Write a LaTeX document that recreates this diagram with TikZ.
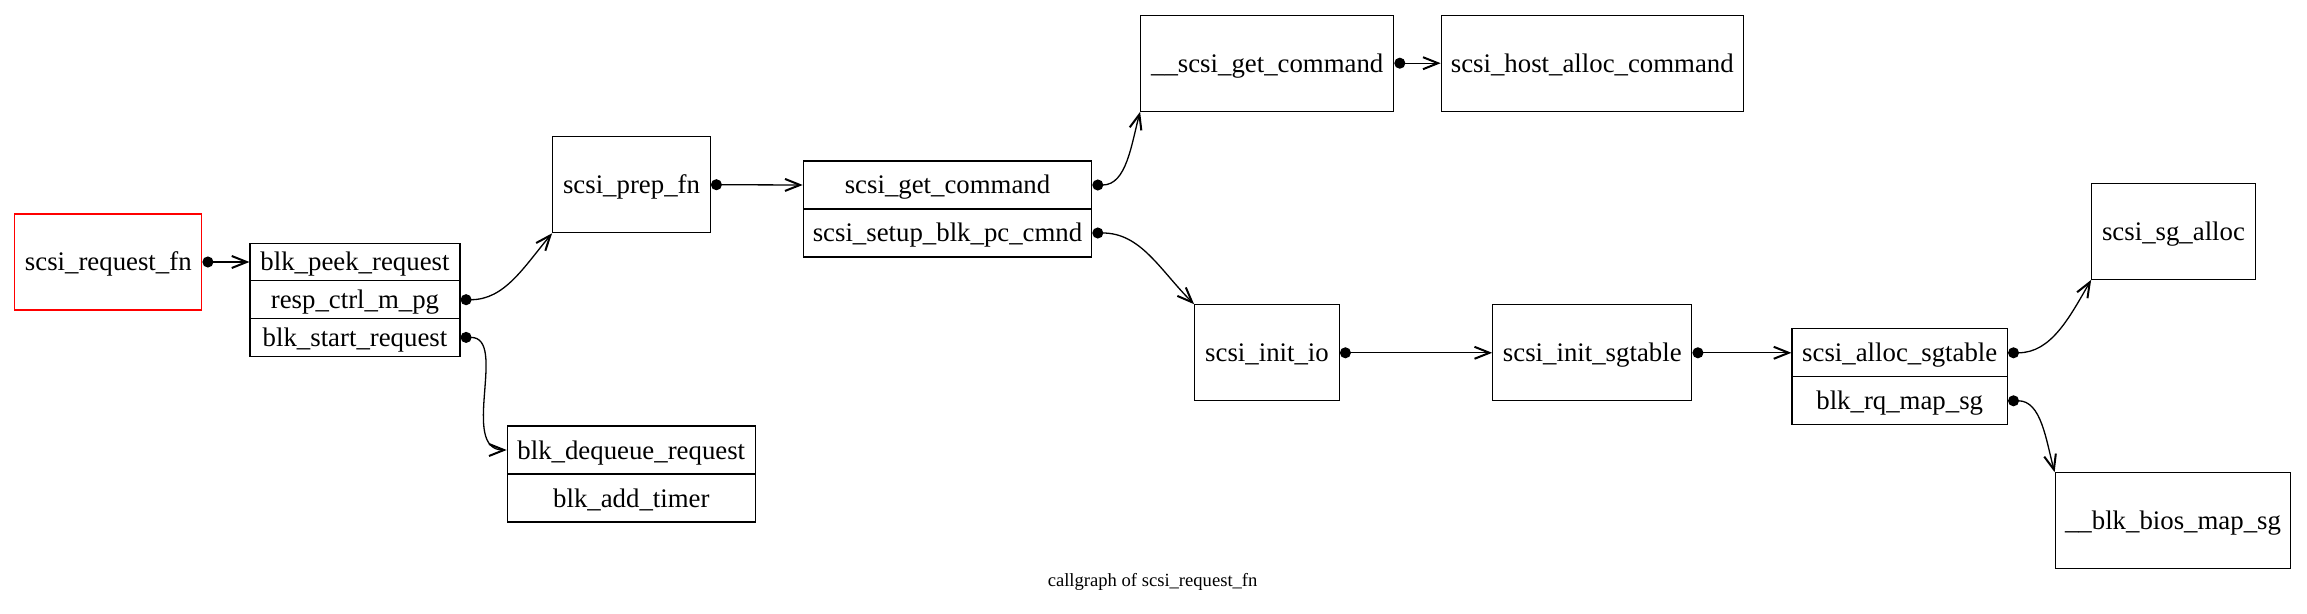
\documentclass[tikz,border=0pt]{standalone}
\usepackage{fontspec}
\setmainfont{Liberation Serif}
\usetikzlibrary{arrows.meta}

\tikzset{
  fn/.style={draw=black, line width=0.6pt, rectangle, inner sep=0pt,
    text height=12pt, text depth=3pt,
    font=\fontsize{13.4}{15}\selectfont},
  single/.style={fn, minimum height=48pt},
  row/.style={fn, minimum height=24pt},
  call/.style={line width=0.65pt, {Circle[length=5.5pt]}-{Straight Barb[length=7.5pt,width=6pt,line width=1pt]}}
}

\begin{document}
\begin{tikzpicture}[x=0.5pt,y=-0.5pt]

\useasboundingbox (0,0) rectangle (2307,614);

% Draw root function
\node[single, draw=red, minimum width=93.5pt] (reqfn) at (108.3,262) {scsi\_request\_fn};

% Draw record of blk calls
\node[fn, minimum width=105pt, minimum height=18.85pt] (peek) at (355,262) {blk\_peek\_request};
\node[fn, minimum width=105pt, minimum height=18.85pt] (respctrl) at (355,299.7) {resp\_ctrl\_m\_pg};
\node[fn, minimum width=105pt, minimum height=18.85pt] (startreq) at (355,337.4) {blk\_start\_request};

% Draw prep function
\node[single, minimum width=78.8pt] (prepfn) at (631.5,184.7) {scsi\_prep\_fn};

% Draw dequeue record
\node[row, minimum width=124pt] (dequeue) at (631.3,450) {blk\_dequeue\_request};
\node[row, minimum width=124pt] (addtimer) at (631.3,498) {blk\_add\_timer};

% Draw command record
\node[row, minimum width=144.2pt] (getcmd) at (947.5,185) {scsi\_get\_command};
\node[row, minimum width=144.2pt] (setupcmd) at (947.5,233) {scsi\_setup\_blk\_pc\_cmnd};

% Draw command allocation
\node[single, minimum width=126.5pt] (ugetcmd) at (1267.2,63.2) {\_\_scsi\_get\_command};
\node[single, minimum width=151pt] (hostalloc) at (1592.3,63.2) {scsi\_host\_alloc\_command};

% Draw io setup
\node[single, minimum width=72.3pt] (initio) at (1267,352.8) {scsi\_init\_io};
\node[single, minimum width=99.5pt] (initsg) at (1592.3,352.8) {scsi\_init\_sgtable};

% Draw sgtable record
\node[row, minimum width=107.7pt] (allocsg) at (1899.7,352.8) {scsi\_alloc\_sgtable};
\node[row, minimum width=107.7pt] (rqmap) at (1899.7,400.8) {blk\_rq\_map\_sg};

% Draw leaves
\node[single, minimum width=81.8pt] (sgalloc) at (2173.5,231.3) {scsi\_sg\_alloc};
\node[single, minimum width=117.8pt] (biosmap) at (2173,520.8) {\_\_blk\_bios\_map\_sg};

% Draw caption
\node[font=\fontsize{9.3}{11}\selectfont] (caption) at (1152.6,582) {callgraph of scsi\_request\_fn};

% Draw calls
\draw[call] (reqfn.east) -- (peek.west);
\draw[call] (respctrl.east) to[out=0,in=-130] (prepfn.south west);
\draw[call] (startreq.east) to[out=0,in=180] (dequeue.west);
\draw[call] (prepfn.east) -- (getcmd.west);
\draw[call] (getcmd.east) to[out=0,in=-105] (ugetcmd.south west);
\draw[call] (setupcmd.east) to[out=0,in=135] (initio.north west);
\draw[call] (ugetcmd.east) -- (hostalloc.west);
\draw[call] (initio.east) -- (initsg.west);
\draw[call] (initsg.east) -- (allocsg.west);
\draw[call] (allocsg.east) to[out=0,in=-120] (sgalloc.south west);
\draw[call] (rqmap.east) to[out=0,in=105] (biosmap.north west);

\end{tikzpicture}
\end{document}
